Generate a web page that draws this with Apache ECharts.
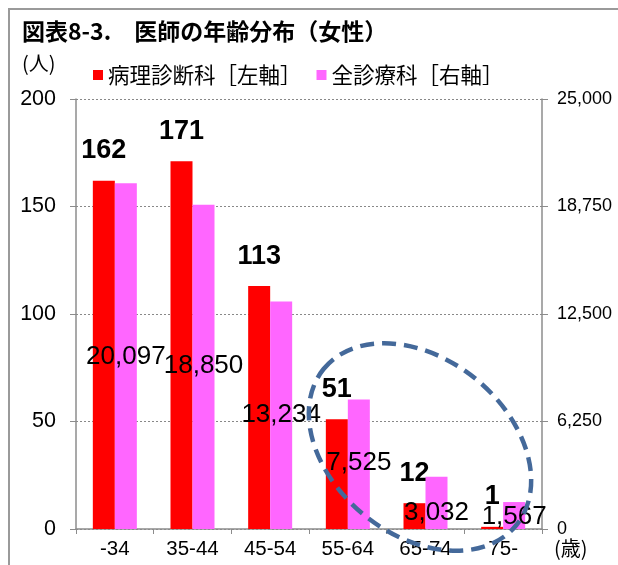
<!DOCTYPE html>
<html lang="ja">
<head>
<meta charset="utf-8">
<title>図表8-3. 医師の年齢分布（女性）</title>
<script src="https://cdn.jsdelivr.net/npm/echarts@6/dist/echarts.min.js"></script>
<style>
  html, body { margin: 0; padding: 0; background: #fff; }
  #chart { width: 618px; height: 565px; }
</style>
</head>
<body>
<div id="chart"></div>
<script>
const ageGroups = ["-34", "35-44", "45-54", "55-64", "65-74", "75-"];
const pathologyCounts = [162, 171, 113, 51, 12, 1];
const allDoctorCounts = [20097, 18850, 13234, 7525, 3032, 1567];
const leftAxisMax = 200;
const leftAxisStep = 50;
const rightAxisMax = 25000;
const rightAxisStep = 6250;

// the right-axis labels were placed by hand in the original; lift above baseline in px
const allDoctorLabelLift = [172, 163, 114, 66, 16, 12];

const numFont = '"Liberation Sans", Arial, sans-serif';
const jpFont = '"Noto Sans CJK JP", sans-serif';
const axisGray = "#8c8c8c";

const chart = echarts.init(document.getElementById("chart"), null, { renderer: "canvas" });

chart.setOption({
  backgroundColor: "#fff",
  animation: false,
  title: {
    text: "図表8-3.　医師の年齢分布（女性）",
    left: 17,
    top: 15,
    textStyle: { fontFamily: jpFont, fontSize: 23, fontWeight: "bold", color: "#000" }
  },
  legend: {
    left: 88,
    top: 59,
    icon: "rect",
    itemWidth: 10,
    itemHeight: 10,
    itemGap: 15,
    textStyle: { fontFamily: jpFont, fontSize: 21.5, lineHeight: 22, color: "#000" },
    data: ["病理診断科［左軸］", "全診療科［右軸］"]
  },
  grid: { left: 76, right: 76, top: 99, bottom: 36 },
  xAxis: {
    type: "category",
    data: ageGroups,
    axisLine: { lineStyle: { color: axisGray, width: 1.5 } },
    axisTick: { show: true, length: 5, lineStyle: { color: axisGray } },
    axisLabel: { fontFamily: numFont, fontSize: 20.5, color: "#000", margin: 10 }
  },
  yAxis: [
    {
      type: "value",
      min: 0,
      max: leftAxisMax,
      interval: leftAxisStep,
      axisLine: { show: true, lineStyle: { color: axisGray, width: 1.5 } },
      axisTick: { show: true, length: 6, lineStyle: { color: axisGray } },
      axisLabel: { fontFamily: numFont, fontSize: 21.5, color: "#000", margin: 20 },
      splitLine: { lineStyle: { color: "#888", type: [2, 2], width: 1 } }
    },
    {
      type: "value",
      min: 0,
      max: rightAxisMax,
      interval: rightAxisStep,
      axisLine: { show: true, lineStyle: { color: axisGray, width: 1.5 } },
      axisTick: { show: true, length: 6, lineStyle: { color: axisGray } },
      axisLabel: {
        fontFamily: numFont,
        fontSize: 18,
        color: "#000",
        margin: 15,
        formatter: (v) => v.toLocaleString("en-US")
      },
      splitLine: { show: false }
    }
  ],
  series: [
    {
      name: "病理診断科［左軸］",
      type: "bar",
      yAxisIndex: 0,
      barWidth: 22,
      barGap: "0%",
      itemStyle: { color: "#ff0000" },
      label: {
        show: true,
        position: "top",
        distance: 16,
        fontFamily: numFont,
        fontSize: 27,
        lineHeight: 28,
        fontWeight: "bold",
        color: "#000"
      },
      data: pathologyCounts
    },
    {
      name: "全診療科［右軸］",
      type: "bar",
      yAxisIndex: 1,
      barWidth: 22,
      barGap: "0%",
      z: 3,
      itemStyle: { color: "#ff66ff" },
      data: allDoctorCounts.map((value, i) => ({
        value,
        label: {
          show: true,
          position: ["50%", "100%"],
          offset: [0, -allDoctorLabelLift[i]],
          align: "center",
          verticalAlign: "middle",
          fontFamily: numFont,
          fontSize: 26,
          lineHeight: 26,
          color: "#000",
          formatter: (p) => p.value.toLocaleString("en-US")
        }
      }))
    }
  ],
  graphic: [
    {
      type: "rect",
      silent: true,
      shape: { x: 9, y: 9, width: 700, height: 700 },
      style: { fill: "none", stroke: "#9a9a9a", lineWidth: 2 },
      z: 0
    },
    {
      type: "text",
      left: 22,
      top: 53,
      style: { text: "(人)", fontFamily: jpFont, fontSize: 20, fill: "#000" }
    },
    {
      type: "text",
      left: 554,
      top: 538,
      style: { text: "(歳)", fontFamily: jpFont, fontSize: 20, fill: "#000" }
    },
    {
      // dashed ring around the older age groups
      type: "ellipse",
      silent: true,
      x: 420,
      y: 447,
      rotation: -0.68,
      shape: { cx: 0, cy: 0, rx: 124, ry: 88 },
      style: { fill: "none", stroke: "#44699a", lineWidth: 4.5, lineDash: [14, 8] },
      z: 100
    }
  ]
});
</script>
</body>
</html>
